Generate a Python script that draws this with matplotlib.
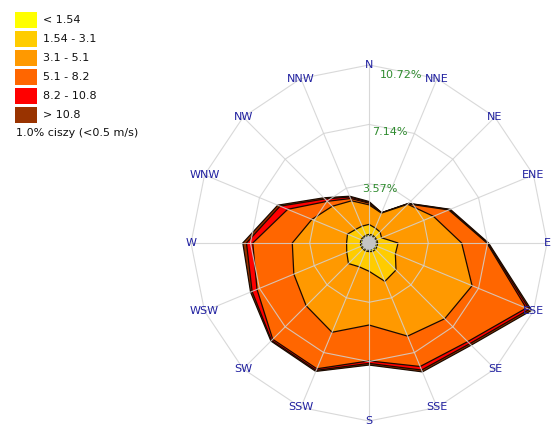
import numpy as np
import matplotlib
matplotlib.use("Agg")
import matplotlib.pyplot as plt
from matplotlib.patches import Polygon, Rectangle

# wind directions, clockwise from north
directions = ["N", "NNE", "NE", "ENE", "E", "ESE", "SE", "SSE",
              "S", "SSW", "SW", "WSW", "W", "WNW", "NW", "NNW"]

# speed classes (m/s) and their colours
classes = ["< 1.54", "1.54 - 3.1", "3.1 - 5.1", "5.1 - 8.2", "8.2 - 10.8", "> 10.8"]
colors = ["#FFFF00", "#FFCC00", "#FF9900", "#FF6600", "#FF0000", "#993300"]

# frequency (%) of each speed class per direction
freq_lt154 = [0.52, 0.52, 0.50, 0.50, 0.52, 0.52, 0.55, 0.55, 0.52, 0.52, 0.52, 0.52, 0.52, 0.52, 0.50, 0.50]
freq_154_31 = [0.60, 0.46, 0.44, 0.32, 1.23, 1.20, 1.75, 1.95, 1.18, 1.03, 1.23, 0.93, 0.83, 0.88, 0.65, 0.60]
freq_31_51 = [1.18, 0.97, 2.36, 3.38, 3.83, 5.00, 4.15, 3.57, 3.24, 4.27, 3.60, 3.45, 3.27, 2.32, 1.98, 1.65]
freq_51_82 = [0.10, 0.01, 0.03, 1.00, 1.52, 3.53, 1.95, 1.98, 2.16, 2.38, 2.85, 2.40, 2.38, 1.58, 0.42, 0.15]
freq_82_108 = [0.05, 0.01, 0.03, 0.05, 0.05, 0.20, 0.18, 0.23, 0.15, 0.10, 0.10, 0.32, 0.38, 0.50, 0.20, 0.10]
freq_gt108 = [0.05, 0.01, 0.02, 0.05, 0.05, 0.15, 0.12, 0.12, 0.10, 0.07, 0.05, 0.10, 0.22, 0.15, 0.10, 0.05]

calm_pct = 1.0
ring_values = [3.57, 7.14, 10.72]

W, H = 551, 428
cx, cy = 369, 243          # rose centre in pixels
r_out_px = 178             # pixel radius of the outer ring
hub_r = 0.45               # size of the calm hub

freqs = np.array([freq_lt154, freq_154_31, freq_31_51, freq_51_82, freq_82_108, freq_gt108])
cum = np.cumsum(freqs, axis=0)

theta = np.deg2rad(np.arange(len(directions)) * 22.5)
sx, cx_ = np.sin(theta), np.cos(theta)


def xy(r):
    r = np.asarray(r, dtype=float) * np.ones_like(theta)
    return np.column_stack([r * sx, r * cx_])


fig = plt.figure(figsize=(W / 100, H / 100), dpi=100)
ax = fig.add_axes([0, 0, 1, 1])
scale = r_out_px / ring_values[-1]
ax.set_xlim(-cx / scale, (W - cx) / scale)
ax.set_ylim(-(H - cy) / scale, cy / scale)
ax.axis("off")

# stacked class polygons, outermost first
for k in range(len(classes) - 1, -1, -1):
    ax.add_patch(Polygon(xy(cum[k]), closed=True, facecolor=colors[k],
                         edgecolor="#1a0a00", lw=0.9, zorder=2 + (5 - k) * 0.01))

# polygon grid on top of the fills
grid_kw = dict(color="#d2d2d2", lw=0.8, alpha=0.85, zorder=4)
for rv in ring_values:
    pts = xy(rv)
    pts = np.vstack([pts, pts[:1]])
    ax.plot(pts[:, 0], pts[:, 1], **grid_kw)
outer = xy(ring_values[-1])
for px_, py_ in outer:
    ax.plot([0, px_], [0, py_], **grid_kw)

# calm hub
ax.add_patch(Polygon(xy(hub_r), closed=True, facecolor="#c4c4c4",
                     edgecolor="#333333", lw=0.8, ls=(0, (1.5, 1.5)), zorder=5))

# direction names
for name, (px_, py_) in zip(directions, outer):
    ax.text(px_, py_, name, color="#2020a0", fontsize=8, ha="center", va="center",
            zorder=6, family="DejaVu Sans")

# ring labels
lab_ang = np.deg2rad(10.5)
for rv in ring_values:
    r = rv * 0.975
    ax.text(r * np.sin(lab_ang), r * np.cos(lab_ang) - 0.15, f"{rv:.2f}%",
            color="#2e8b2e", fontsize=8, ha="center", va="center", zorder=6)

# legend
for i, (lab, col) in enumerate(zip(classes, colors)):
    yc = 20 + 19 * i
    fig.add_artist(Rectangle((15 / W, 1 - (yc + 8) / H), 22 / W, 16 / H,
                             transform=fig.transFigure, facecolor=col, edgecolor="none"))
    fig.text(43 / W, 1 - yc / H, lab, fontsize=8, va="center", ha="left", color="#111111")
fig.text(16 / W, 1 - 133 / H, f"{calm_pct:.1f}% ciszy (<0.5 m/s)", fontsize=8,
         va="center", ha="left", color="#111111")

fig.savefig("out.png", dpi=100, facecolor="white")
